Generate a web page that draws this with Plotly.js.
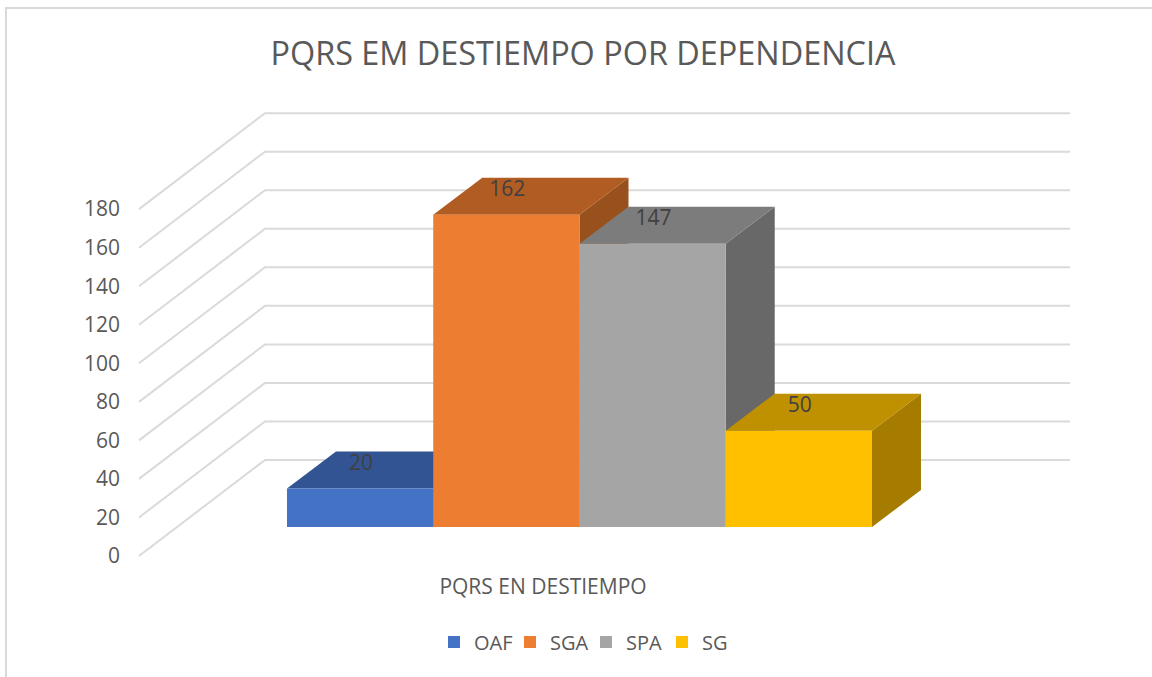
<!DOCTYPE html>
<html><head><meta charset="utf-8">
<script src="https://cdn.plot.ly/plotly-3.0.1.min.js"></script>
<style>
html,body{margin:0;padding:0;background:#fff;overflow:hidden}
#chart{position:absolute;left:0;top:0;width:1152px;height:677px}
#frame{position:absolute;left:5px;top:7px;right:-4px;bottom:-4px;border:2px solid #D9D9D9;pointer-events:none}
</style></head><body>
<div id="chart"></div><div id="frame"></div>
<script>
const categories = ['OAF','SGA','SPA','SG'];
const values = [20,162,147,50];
const frontColors = ['#4472C4','#ED7D31','#A5A5A5','#FFC000'];
const topColors = ['#325492','#B15C22','#7C7C7C','#BF9000'];
const sideColors = ['#2B4880','#98501D','#686868','#A67C00'];
const axisTicks = [0,20,40,60,80,100,120,140,160,180];
const chartTitle = 'PQRS EM DESTIEMPO POR DEPENDENCIA';
const groupLabel = 'PQRS EN DESTIEMPO';

// geometry of the 3D look, in axis units
const W=1152,H=677,L=130,R=1100,T=100,B=572;
const unitX=146.25, x0Px=360.1, pxPerVal=1.927;
const xAt=p=>(p-x0Px)/unitX;
const depthX=49/unitX, depthY=37/pxPerVal, wallRise=96/pxPerVal;
const wallFront=xAt(139), wallBack=xAt(265), wallEnd=xAt(1070);
const yRange=zeroPx=>[(zeroPx-B)/pxPerVal,(zeroPx-T)/pxPerVal];
const labelLift=12.5;
const ids=categories.map((c,i)=>i);

const traces=[];
// back wall + side wall gridlines
const wx=[],wy=[];
axisTicks.forEach(v=>{wx.push(wallFront,wallBack,wallEnd,null);wy.push(v,v+wallRise,v+wallRise,null);});
traces.push({type:'scatter',mode:'lines',x:wx,y:wy,xaxis:'x',yaxis:'y',line:{color:'#DADADA',width:2},showlegend:false,hoverinfo:'skip'});
// sides and tops
ids.forEach(i=>{
  const v=values[i];
  traces.push({type:'scatter',mode:'lines',fill:'toself',fillcolor:sideColors[i],line:{width:0},showlegend:false,hoverinfo:'skip',xaxis:'x',yaxis:'y2',
    x:[i+.5,i+.5+depthX,i+.5+depthX,i+.5,i+.5],y:[0,depthY,v+depthY,v,0]});
  traces.push({type:'scatter',mode:'lines',fill:'toself',fillcolor:topColors[i],line:{width:0},showlegend:false,hoverinfo:'skip',xaxis:'x',yaxis:'y2',
    x:[i-.5,i+.5,i+.5+depthX,i-.5+depthX,i-.5],y:[v,v,v+depthY,v+depthY,v]});
});
traces.push({type:'scatter',mode:'text',x:ids.map(i=>i+0.007),y:values.map(v=>v+labelLift),text:values.map(String),textposition:'middle center',
  textfont:{family:'Open Sans',size:21,color:'#404040'},showlegend:false,hoverinfo:'skip',xaxis:'x',yaxis:'y2'});
// front faces
ids.forEach(i=>{
  traces.push({type:'bar',name:categories[i],x:[i],y:[values[i]],width:1,marker:{color:frontColors[i],line:{width:0}},xaxis:'x',yaxis:'y3'});
});

const layout={
  width:W,height:H,paper_bgcolor:'#fff',plot_bgcolor:'rgba(0,0,0,0)',
  margin:{l:L,r:W-R,t:T,b:H-B,pad:0},
  title:{text:chartTitle,font:{family:'Open Sans',size:32.4,color:'#595959'},x:583/W,xref:'container',xanchor:'center',y:1-54/H,yref:'container',yanchor:'middle'},
  xaxis:{range:[xAt(L),xAt(R)],showgrid:false,zeroline:false,showline:false,ticks:'',tickmode:'array',tickvals:[xAt(543)],ticktext:[groupLabel],
    tickfont:{family:'Open Sans',size:21,color:'#595959'},fixedrange:true},
  yaxis:{range:yRange(556),showgrid:false,zeroline:false,showline:false,ticks:'',tickmode:'array',tickvals:axisTicks,
    tickfont:{family:'Open Sans',size:21,color:'#595959'},ticklabelstandoff:9,fixedrange:true},
  yaxis2:{range:yRange(527),overlaying:'y',visible:false,fixedrange:true},
  yaxis3:{range:yRange(527),overlaying:'y',visible:false,fixedrange:true},
  barmode:'overlay',
  showlegend:true,
  legend:{orientation:'h',x:(434-L)/(R-L),xanchor:'left',y:(B-642)/(B-T),yanchor:'middle',font:{family:'Open Sans',size:20,color:'#595959'},
    itemwidth:30,entrywidth:31,entrywidthmode:'pixels',traceorder:'normal',bgcolor:'rgba(0,0,0,0)',itemclick:false,itemdoubleclick:false}
};
Plotly.newPlot('chart',traces,layout,{displayModeBar:false,staticPlot:true});
</script></body></html>
